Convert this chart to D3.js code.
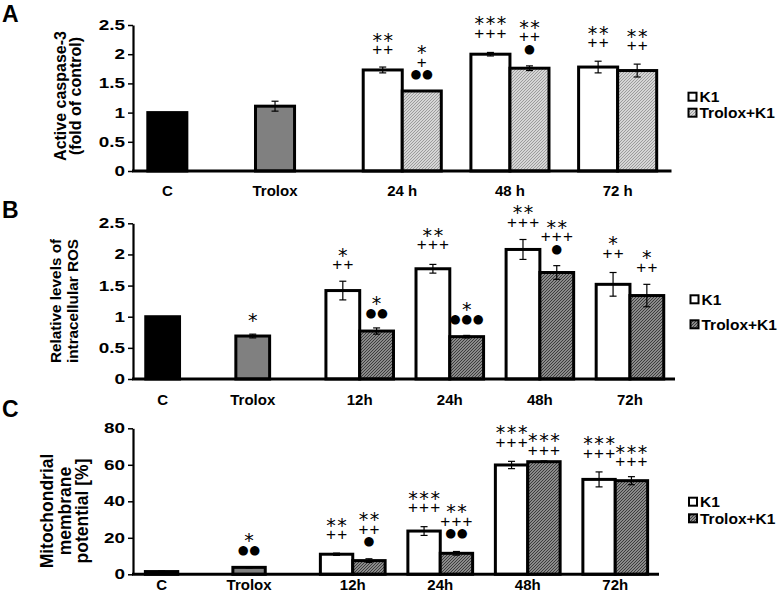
<!DOCTYPE html>
<html><head><meta charset="utf-8">
<script src="https://cdn.jsdelivr.net/npm/d3@7"></script>
<style>body{margin:0;background:#fff} svg{display:block}</style>
</head><body>
<svg id="chart" width="781" height="603"></svg>
<script>
// ---------------- DATA ----------------
const seriesNames = ["K1", "Trolox+K1"];

// Panel A – Active caspase-3 (fold of control)
const catsA = ["C", "Trolox", "24 h", "48 h", "72 h"];
const ctrlA = [1.0, 1.11];
const ctrlErrA = [0, 0.085];
const k1A = [1.73, 2.0, 1.78];
const k1ErrA = [0.05, 0.03, 0.10];
const tkA = [1.37, 1.76, 1.72];
const tkErrA = [0, 0.04, 0.11];
const ticksA = [0, 0.5, 1, 1.5, 2, 2.5];
const ctrlNoteA = [[], []];
const k1NoteA = [["**", "++"], ["***", "+++"], ["**", "++"]];
const tkNoteA = [["*", "+", "●●"], ["**", "++", "●"], ["**", "++"]];

// Panel B – Relative levels of intracellular ROS
const catsB = ["C", "Trolox", "12h", "24h", "48h", "72h"];
const ctrlB = [1.0, 0.69];
const ctrlErrB = [0, 0.03];
const k1B = [1.42, 1.77, 2.08, 1.52];
const k1ErrB = [0.15, 0.07, 0.16, 0.19];
const tkB = [0.77, 0.68, 1.71, 1.34];
const tkErrB = [0.05, 0.02, 0.11, 0.18];
const ticksB = [0, 0.5, 1, 1.5, 2, 2.5];
const ctrlNoteB = [[], ["*"]];
const k1NoteB = [["*", "++"], ["**", "+++"], ["**", "+++"], ["*", "++"]];
const tkNoteB = [["*", "●●"], ["*", "●●●"], ["**", "+++", "●"], ["*", "++"]];

// Panel C – Mitochondrial membrane potential [%]
const catsC = ["C", "Trolox", "12h", "24h", "48h", "72h"];
const ctrlC = [1.5, 3.8];
const ctrlErrC = [0.3, 0.3];
const k1C = [11.0, 23.7, 59.9, 52.0];
const k1ErrC = [0.6, 2.4, 2.0, 4.1];
const tkC = [7.5, 11.5, 61.7, 51.3];
const tkErrC = [1.0, 1.0, 0.4, 2.2];
const ticksC = [0, 20, 40, 60, 80];
const ctrlNoteC = [[], ["*", "●●"]];
const k1NoteC = [["**", "++"], ["***", "+++"], ["***", "+++"], ["***", "+++"]];
const tkNoteC = [["**", "++", "●"], ["**", "+++", "●●"], ["***", "+++"], ["***", "+++"]];

// ---------------- LAYOUT ----------------
const FONT = "'Liberation Sans', Arial, sans-serif";
const svg = d3.select("#chart");
const defs = svg.append("defs");

function makePattern(id, bg, fg) {
  const p = defs.append("pattern").attr("id", id).attr("patternUnits", "userSpaceOnUse")
    .attr("width", 3).attr("height", 3);
  p.append("rect").attr("width", 3).attr("height", 3).attr("fill", bg);
  p.append("path").attr("d", "M-1,1 L1,-1 M0,3 L3,0 M2,4 L4,2")
    .attr("stroke", fg).attr("stroke-width", 1);
}
makePattern("hatchLight", "#d6d6d6", "#9c9c9c");
makePattern("hatchDark", "#8a8a8a", "#3c3c3c");

const panels = [
  { letter: "A", cats: catsA, ctrl: ctrlA, ctrlErr: ctrlErrA, k1: k1A, k1Err: k1ErrA, tk: tkA, tkErr: tkErrA,
    ticks: ticksA, ctrlNote: ctrlNoteA, k1Note: k1NoteA, tkNote: tkNoteA,
    ctrlGap: [18, 18], k1Gap: [18, 19.5, 19], tkGap: [17, 17.5, 19],
    xr: [133, 671.5], yr: [171, 25], axisX0: 133, labelY: 196, letterY: 22,
    title: ["Active caspase-3", "(fold of control)"], titleX: [60, 75.5], titleY: 96, titleSize: 16,
    legX: 688.5, legY: [96.7, 112.7], pattern: "hatchLight", barPad: 0.275 },
  { letter: "B", cats: catsB, ctrl: ctrlB, ctrlErr: ctrlErrB, k1: k1B, k1Err: k1ErrB, tk: tkB, tkErr: tkErrB,
    ticks: ticksB, ctrlNote: ctrlNoteB, k1Note: k1NoteB, tkNote: tkNoteB,
    ctrlGap: [17, 17], k1Gap: [17, 20, 17.7, 19.8], tkGap: [15.6, 17, 17.3, 17.6],
    xr: [134.5, 675], yr: [379, 223.3], axisX0: 133, labelY: 405, letterY: 218,
    title: ["Relative levels of", "intracellular ROS"], titleX: [55, 72], titleY: 301, titleSize: 15.3,
    legX: 690.5, legY: [299.3, 324.3], pattern: "hatchDark", barPad: 0.25 },
  { letter: "C", cats: catsC, ctrl: ctrlC, ctrlErr: ctrlErrC, k1: k1C, k1Err: k1ErrC, tk: tkC, tkErr: tkErrC,
    ticks: ticksC, ctrlNote: ctrlNoteC, k1Note: k1NoteC, tkNote: tkNoteC,
    ctrlGap: [17, 17], k1Gap: [19, 19.4, 19.6, 19], tkGap: [18, 18.5, 11, 15],
    xr: [134, 659], yr: [574.3, 428.3], axisX0: 133, labelY: 590, letterY: 417,
    title: ["Mitochondrial", "membrane", "potential  [%]"], titleX: [47, 64.5, 81.5], titleY: 511, titleSize: 17.5,
    legX: 689, legY: [501.7, 518.3], pattern: "hatchDark", barPad: 0.26 }
];

const ctrlFill = ["#000000", "#808080"];

function drawNotes(g, lines, cx, yTop, gap) {
  // one text element per bar; rows listed top -> bottom
  const n = lines.length;
  const t = g.append("text").attr("text-anchor", "middle").attr("fill", "#000");
  lines.forEach((s, i) => {
    const rowC = yTop - gap - (n - 1 - i) * 12;
    let size, fam, dy, ls;
    if (s[0] === "*") { size = 19; fam = "'DejaVu Sans', sans-serif"; dy = 9.5; ls = 1.6; }
    else if (s[0] === "+") { size = 17; fam = FONT; dy = 5.8; ls = 1.2; }
    else { size = 12.5; fam = "'DejaVu Sans', sans-serif"; dy = 4.3; ls = 0.6; }
    t.append("tspan").attr("x", cx + ls / 2).attr("y", rowC + dy)
      .attr("font-family", fam).attr("font-size", size).attr("letter-spacing", ls).text(s);
  });
}

panels.forEach(P => {
  const g = svg.append("g");
  const yMax = P.ticks[P.ticks.length - 1];
  const y = d3.scaleLinear().domain([0, yMax]).range(P.yr);
  const x0 = d3.scaleBand().domain(P.cats).range(P.xr).paddingInner(P.barPad).paddingOuter(P.barPad / 2);
  const x1 = d3.scaleBand().domain(seriesNames).range([0, x0.bandwidth()]);
  const bw = x1.bandwidth();

  const bars = [];
  P.ctrl.forEach((v, i) => bars.push({ cat: P.cats[i], s: "K1", v, e: P.ctrlErr[i], fill: ctrlFill[i], note: P.ctrlNote[i], gap: P.ctrlGap[i] }));
  P.k1.forEach((v, j) => bars.push({ cat: P.cats[j + 2], s: "K1", v, e: P.k1Err[j], fill: "#ffffff", note: P.k1Note[j], gap: P.k1Gap[j] }));
  P.tk.forEach((v, j) => bars.push({ cat: P.cats[j + 2], s: "Trolox+K1", v, e: P.tkErr[j], fill: `url(#${P.pattern})`, note: P.tkNote[j], gap: P.tkGap[j] }));

  g.selectAll("rect.bar").data(bars).join("rect").attr("class", "bar")
    .attr("x", d => x0(d.cat) + x1(d.s)).attr("width", bw)
    .attr("y", d => y(d.v)).attr("height", d => y(0) - y(d.v))
    .attr("fill", d => d.fill).attr("stroke", "#000").attr("stroke-width", 3);

  const eb = bars.filter(d => d.e > 0);
  const ebG = g.selectAll("g.eb").data(eb).join("g").attr("class", "eb")
    .attr("transform", d => `translate(${x0(d.cat) + x1(d.s) + bw / 2},0)`);
  ebG.append("line").attr("y1", d => y(d.v - d.e)).attr("y2", d => y(d.v + d.e));
  ebG.append("line").attr("x1", -3.5).attr("x2", 3.5).attr("y1", d => y(d.v - d.e)).attr("y2", d => y(d.v - d.e));
  ebG.append("line").attr("x1", -3.5).attr("x2", 3.5).attr("y1", d => y(d.v + d.e)).attr("y2", d => y(d.v + d.e));
  ebG.selectAll("line").attr("stroke", "#000").attr("stroke-width", 1.2);

  bars.forEach(d => {
    if (d.note && d.note.length) drawNotes(g, d.note, x0(d.cat) + x1(d.s) + bw / 2, y(d.v + d.e), d.gap);
  });

  g.append("line").attr("x1", P.axisX0 - 1).attr("x2", P.xr[1]).attr("y1", y(0)).attr("y2", y(0))
    .attr("stroke", "#000").attr("stroke-width", 3);

  const SX = 1.35;
  const yAxis = d3.axisLeft(y).tickValues(P.ticks).tickSize(5).tickSizeOuter(0).tickPadding(3)
    .tickFormat(d => String(d));
  const ya = g.append("g").attr("transform", `translate(${P.axisX0},0)`).call(yAxis);
  ya.select(".domain").attr("stroke", "#000").attr("stroke-width", 2.2);
  ya.selectAll(".tick line").attr("stroke", "#000").attr("stroke-width", 1.5);
  ya.selectAll(".tick text").attr("font-family", FONT).attr("font-weight", "bold")
    .attr("font-size", 14).attr("fill", "#000")
    .attr("x", -8 / SX).attr("transform", `scale(${SX},1)`);

  P.cats.forEach((c, i) => {
    const cx = i < 2 ? x0(c) + x1("K1") + bw / 2 : x0(c) + x0.bandwidth() / 2;
    g.append("text").attr("x", cx).attr("y", P.labelY).attr("text-anchor", "middle")
      .attr("font-family", FONT).attr("font-weight", "bold").attr("font-size", 15).text(c);
  });

  g.append("text").attr("x", 2).attr("y", P.letterY).attr("font-family", FONT)
    .attr("font-weight", "bold").attr("font-size", 23).text(P.letter);

  P.title.forEach((t, i) => {
    g.append("text").attr("transform", `translate(${P.titleX[i]},${P.titleY}) rotate(-90)`)
      .attr("text-anchor", "middle").attr("dominant-baseline", "central")
      .attr("font-family", FONT).attr("font-weight", "bold").attr("font-size", P.titleSize).text(t);
  });

  const legFills = ["#ffffff", `url(#${P.pattern})`];
  seriesNames.forEach((s, i) => {
    g.append("rect").attr("x", P.legX).attr("y", P.legY[i] - 4).attr("width", 8).attr("height", 8)
      .attr("fill", legFills[i]).attr("stroke", "#000").attr("stroke-width", 2);
    g.append("text").attr("x", P.legX + 11).attr("y", P.legY[i] + 5.5)
      .attr("font-family", FONT).attr("font-weight", "bold").attr("font-size", 15.5).text(s);
  });
});
</script>
</body></html>
